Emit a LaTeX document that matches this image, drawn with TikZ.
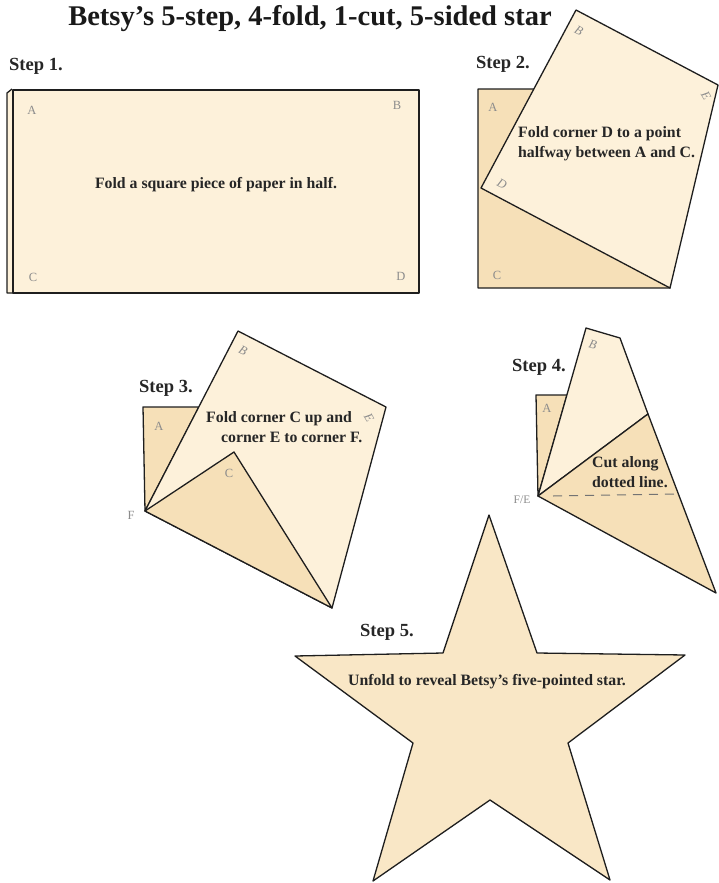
\documentclass[tikz,border=0pt]{standalone}
\usepackage{fontspec}
\setmainfont{Liberation Serif}
\usetikzlibrary{positioning}
\definecolor{paperlight}{HTML}{FDF1DA}
\definecolor{paperdark}{HTML}{F6E0B8}
\definecolor{inkline}{HTML}{1E1E1E}
\begin{document}
\begin{tikzpicture}[x=1pt, y=-1pt]
    % Styles
    \tikzstyle{paper} = [draw=inkline, line width=1.3pt, fill=paperlight, line join=round]
    \tikzstyle{under} = [paper, fill=paperdark]
    \tikzstyle{note} = [font=\bfseries\fontsize{15.8}{20}\selectfont, text=black!85, inner sep=0pt]
    \tikzstyle{steplabel} = [font=\bfseries\fontsize{18.5}{20}\selectfont, text=black!85, anchor=west, inner sep=0pt]
    \tikzstyle{corner} = [font=\fontsize{12.5}{12}\selectfont, text=black!45, inner sep=0pt]
    \tikzstyle{cut} = [draw=black!55, line width=1pt, dash pattern=on 9pt off 7pt]

    \useasboundingbox (0,0) rectangle (719,883);

    % Nodes
    \node[font=\bfseries\fontsize{28.5}{30}\selectfont, text=black!90] (title) at (310,19) {Betsy’s 5-step, 4-fold, 1-cut, 5-sided star};

    % Step 1
    \node[steplabel] (step1) at (9,66) {Step 1.};
    \draw[paper] (12,89) -- (7,93) -- (7,293) -- (13,293);
    \draw[paper] (13,90) rectangle (419,293);
    \node[note] (note1) at (216,185) {Fold a square piece of paper in half.};
    \node[corner] (s1a) at (32,110) {A};
    \node[corner] (s1b) at (397,105) {B};
    \node[corner] (s1c) at (33,277) {C};
    \node[corner] (s1d) at (401,276) {D};

    % Step 2
    \node[steplabel] (step2) at (476,64) {Step 2.};
    \coordinate (s2A) at (478,89);
    \coordinate (s2C) at (478,288);
    \coordinate (s2D) at (481,188);
    \coordinate (s2B) at (576,10);
    \coordinate (s2E) at (718,85);
    \coordinate (s2F) at (670,288);
    \draw[under] (s2A) -- (560,89) -- (s2F) -- (s2C) -- cycle;
    \draw[paper] (s2D) -- (s2B) -- (s2E) -- (s2F) -- cycle;
    \node[note, align=left, anchor=north west] (note2) at (518,126) {Fold corner D to a point\\halfway between A and C.};
    \node[corner] (s2a) at (493,107) {A};
    \node[corner, font=\itshape\fontsize{12.5}{12}\selectfont, rotate=-28] (s2b) at (579,31) {B};
    \node[corner, font=\itshape\fontsize{12.5}{12}\selectfont, rotate=-60] (s2e) at (706,96) {E};
    \node[corner, font=\itshape\fontsize{12.5}{12}\selectfont, rotate=-28] (s2d) at (502,184) {D};
    \node[corner] (s2c) at (497,275) {C};

    % Step 3
    \node[steplabel] (step3) at (139,388) {Step 3.};
    \coordinate (s3A) at (143,407);
    \coordinate (s3F) at (145,511);
    \coordinate (s3B) at (238,331);
    \coordinate (s3E) at (386,407);
    \coordinate (s3G) at (332,608);
    \coordinate (s3C) at (234,452);
    \draw[under] (s3A) -- (199,407) -- (s3F) -- cycle;
    \draw[paper] (s3F) -- (s3B) -- (s3E) -- (s3G) -- cycle;
    \draw[under] (s3F) -- (s3C) -- (s3G) -- cycle;
    \node[note, align=left, anchor=north west] (note3) at (206,411) {Fold corner C up and\\\hspace*{15pt}corner E to corner F.};
    \node[corner] (s3a) at (159,426) {A};
    \node[corner, font=\itshape\fontsize{12.5}{12}\selectfont, rotate=-27] (s3b) at (243,351) {B};
    \node[corner, font=\itshape\fontsize{12.5}{12}\selectfont, rotate=-60] (s3e) at (369,418) {E};
    \node[corner] (s3c) at (229,473) {C};
    \node[corner] (s3f) at (131,515) {F};

    % Step 4
    \node[steplabel] (step4) at (512,367) {Step 4.};
    \coordinate (s4A) at (536,395);
    \coordinate (s4F) at (538,496);
    \coordinate (s4B) at (586,328);
    \coordinate (s4G) at (620,338);
    \coordinate (s4H) at (648,414);
    \coordinate (s4T) at (716,593);
    \coordinate (s4cutA) at (553,496);
    \coordinate (s4cutB) at (678,494);
    \draw[under] (s4A) -- (567,395) -- (s4F) -- cycle;
    \draw[paper] (s4F) -- (s4B) -- (s4G) -- (s4H) -- cycle;
    \draw[under] (s4F) -- (s4H) -- (s4T) -- cycle;
    \draw[cut] (s4cutA) -- (s4cutB);
    \node[note, align=left, anchor=north west] (note4) at (592,456) {Cut along\\dotted line.};
    \node[corner] (s4a) at (547,408) {A};
    \node[corner, font=\itshape\fontsize{12.5}{12}\selectfont, rotate=-16] (s4b) at (593,345) {B};
    \node[corner, font=\fontsize{11.5}{12}\selectfont] (s4fe) at (522,500) {F/E};

    % Step 5
    \node[steplabel] (step5) at (360,632) {Step 5.};
    \draw[paper, fill=paperdark!60!paperlight] (489,515) -- (443,653) -- (295,656) -- (413,743) -- (373,881)
        -- (490,800) -- (610,880) -- (568,743) -- (685,655) -- (537,653) -- cycle;
    \node[note] (note5) at (487,682) {Unfold to reveal Betsy’s five-pointed star.};
\end{tikzpicture}
\end{document}
